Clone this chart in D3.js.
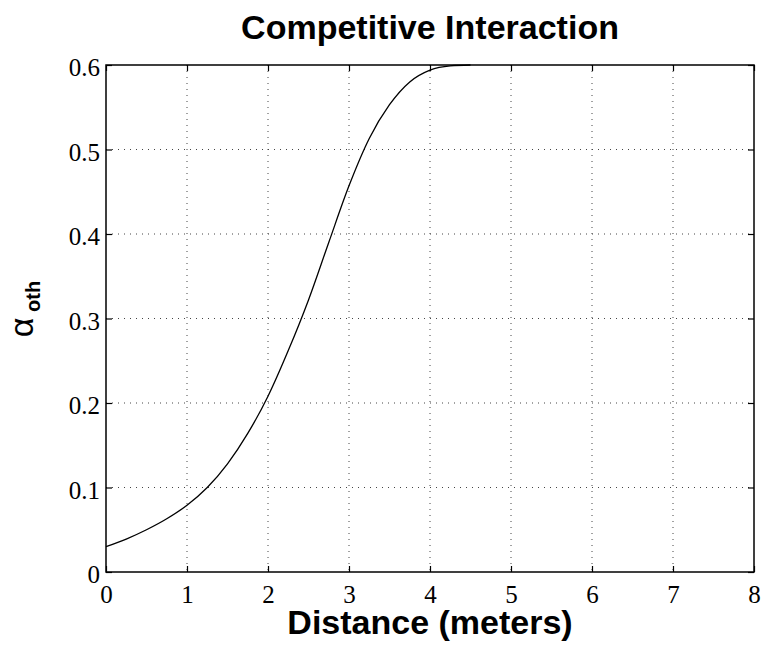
<!DOCTYPE html>
<html>
<head>
<meta charset="utf-8">
<script src="https://cdn.jsdelivr.net/npm/d3@7"></script>
<style>
    body { margin: 0; background: #fff; }
    .tick text { font-family: "Liberation Serif", "Times New Roman", serif; font-size: 25px; fill: #000; }
</style>
</head>
<body>
<div id="chart"></div>
<script>
const width = 764;
const height = 648;
const marginTop = 65;
const marginRight = 10;
const marginBottom = 76;
const marginLeft = 106;

// values
const distance = [0, 0.25, 0.5, 0.75, 1, 1.25, 1.5, 1.75, 2, 2.25, 2.5, 2.75, 3, 3.25, 3.5, 3.75, 4, 4.25, 4.5];
const alphaOth = [0.030, 0.039, 0.050, 0.063, 0.079, 0.100, 0.128, 0.164, 0.208, 0.262, 0.322, 0.390, 0.457, 0.513, 0.553, 0.580, 0.594, 0.599, 0.600];

const xTicks = [0, 1, 2, 3, 4, 5, 6, 7, 8];
const xTickLabels = ["0", "1", "2", "3", "4", "5", "6", "7", "8"];
const yTicks = [0, 0.1, 0.2, 0.3, 0.4, 0.5, 0.6];
const yTickLabels = ["0", "0.1", "0.2", "0.3", "0.4", "0.5", "0.6"];

const data = distance.map((d, i) => ({ x: d, y: alphaOth[i] }));

const x = d3.scaleLinear([0, 8], [marginLeft, width - marginRight]);
const y = d3.scaleLinear([0, 0.6], [height - marginBottom, marginTop]);

const svg = d3.select("#chart")
    .append("svg")
    .attr("width", width)
    .attr("height", height)
    .attr("viewBox", [0, 0, width, height]);

// dotted grid
svg.append("g")
    .selectAll("line")
    .data(xTicks.slice(1, -1))
    .join("line")
    .attr("x1", d => x(d)).attr("x2", d => x(d))
    .attr("y1", marginTop).attr("y2", height - marginBottom)
    .attr("stroke", "#444")
    .attr("stroke-width", 1)
    .attr("stroke-dasharray", "1,5");

svg.append("g")
    .selectAll("line")
    .data(yTicks.slice(1, -1))
    .join("line")
    .attr("x1", marginLeft).attr("x2", width - marginRight)
    .attr("y1", d => y(d)).attr("y2", d => y(d))
    .attr("stroke", "#444")
    .attr("stroke-width", 1)
    .attr("stroke-dasharray", "1,5");

// axes, ticks pointing inward
svg.append("g")
    .attr("transform", `translate(0,${height - marginBottom})`)
    .call(d3.axisBottom(x).tickValues(xTicks).tickFormat((d, i) => xTickLabels[i])
        .tickSizeInner(-6).tickSizeOuter(0).tickPadding(13));

const yAxis = svg.append("g")
    .attr("transform", `translate(${marginLeft},0)`)
    .call(d3.axisLeft(y).tickValues(yTicks).tickFormat((d, i) => yTickLabels[i])
        .tickSizeInner(-6).tickSizeOuter(0).tickPadding(6));
yAxis.selectAll("text").attr("dy", "0.42em");

svg.append("g")
    .attr("transform", `translate(0,${marginTop})`)
    .call(d3.axisTop(x).tickValues(xTicks).tickFormat("").tickSizeInner(-6).tickSizeOuter(0));

svg.append("g")
    .attr("transform", `translate(${width - marginRight},0)`)
    .call(d3.axisRight(y).tickValues(yTicks).tickFormat("").tickSizeInner(-6).tickSizeOuter(0));

svg.selectAll(".domain").remove();
svg.selectAll(".tick line").attr("stroke", "#000").attr("stroke-width", 1.2);

svg.append("rect")
    .attr("x", marginLeft)
    .attr("y", marginTop)
    .attr("width", width - marginLeft - marginRight)
    .attr("height", height - marginTop - marginBottom)
    .attr("fill", "none")
    .attr("stroke", "#000")
    .attr("stroke-width", 1.5);

// curve
const line = d3.line()
    .x(d => x(d.x))
    .y(d => y(d.y))
    .curve(d3.curveMonotoneX);

svg.append("path")
    .datum(data)
    .attr("fill", "none")
    .attr("stroke", "#000")
    .attr("stroke-width", 1.3)
    .attr("d", line);

// labels
const cx = (marginLeft + width - marginRight) / 2;

svg.append("text")
    .attr("x", cx)
    .attr("y", 39)
    .attr("text-anchor", "middle")
    .style("font-family", "'Liberation Sans', Arial, sans-serif")
    .style("font-weight", "bold")
    .style("font-size", "34px")
    .text("Competitive Interaction");

svg.append("text")
    .attr("x", cx)
    .attr("y", 634)
    .attr("text-anchor", "middle")
    .style("font-family", "'Liberation Sans', Arial, sans-serif")
    .style("font-weight", "bold")
    .style("font-size", "34px")
    .text("Distance (meters)");

const yLabel = svg.append("text")
    .attr("transform", "translate(33,309) rotate(-90)")
    .attr("text-anchor", "middle")
    .style("font-family", "'Liberation Sans', Arial, sans-serif");
yLabel.append("tspan")
    .style("font-size", "34px")
    .text("α");
yLabel.append("tspan")
    .attr("dy", 7)
    .style("font-size", "20px")
    .style("font-weight", "bold")
    .text(" oth");
</script>
</body>
</html>
